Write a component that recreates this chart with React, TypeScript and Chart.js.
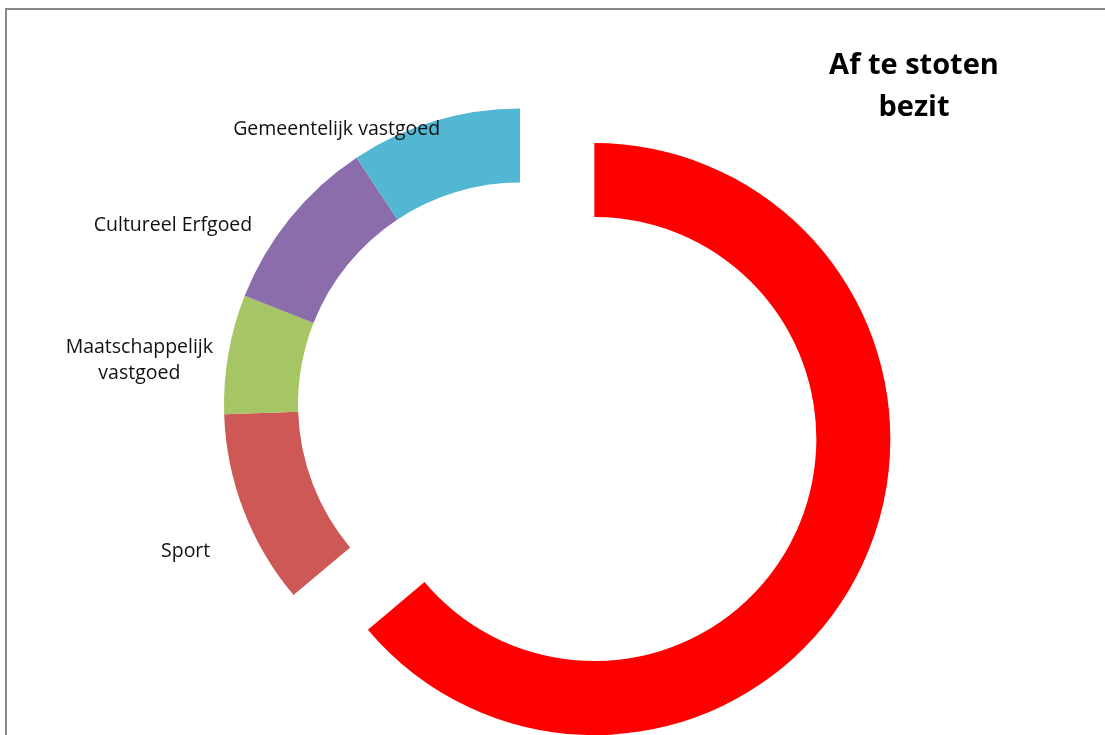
import React, { useEffect, useRef } from 'react';
import { Chart, registerables } from 'chart.js';

Chart.register(...registerables);

// ---- data ----
const categories = ['Af te stoten bezit', 'Sport', 'Maatschappelijk vastgoed', 'Cultureel Erfgoed', 'Gemeentelijk vastgoed'];
const values = [63.8, 10.6, 6.5, 9.7, 9.3];
const labelLines: string[][] = [[], ['Sport'], ['Maatschappelijk', 'vastgoed'], ['Cultureel Erfgoed'], ['Gemeentelijk vastgoed']];
const titleLines = ['Af te stoten', 'bezit'];

// ---- styles ----
const colors = ['#FF0000', '#CD5855', '#A6C564', '#8B6DAC', '#52B7D2'];
const explode = [82, 0, 0, 0, 0];
const labelOffsets = [[0, 0], [-58, 41], [-89, 6], [-117, 7], [-98, 8]];

const explodePlugin = {
  id: 'explodeSlices',
  beforeDatasetDraw(chart: any, args: any) {
    const ctx = chart.ctx;
    const meta = args.meta;
    meta.data.forEach((arc: any, i: number) => {
      const d = explode[i] || 0;
      ctx.save();
      if (d) {
        const mid = (arc.startAngle + arc.endAngle) / 2;
        ctx.translate(Math.cos(mid) * d, Math.sin(mid) * d);
      }
      arc.draw(ctx);
      ctx.restore();
    });
    return false;
  },
};

const labelPlugin = {
  id: 'sliceLabels',
  afterDatasetsDraw(chart: any) {
    const ctx = chart.ctx;
    const meta = chart.getDatasetMeta(0);
    ctx.save();
    ctx.font = '19.5px "Open Sans"';
    ctx.fillStyle = '#111111';
    ctx.textAlign = 'center';
    ctx.textBaseline = 'middle';
    meta.data.forEach((arc: any, i: number) => {
      const lines = labelLines[i];
      if (!lines || !lines.length) return;
      const mid = (arc.startAngle + arc.endAngle) / 2;
      const ax = arc.x + Math.cos(mid) * arc.outerRadius + labelOffsets[i][0];
      const ay = arc.y + Math.sin(mid) * arc.outerRadius + labelOffsets[i][1];
      const lh = 26;
      lines.forEach((t, k) => ctx.fillText(t, ax, ay + (k - (lines.length - 1) / 2) * lh));
    });
    // title
    ctx.font = 'bold 29px "Open Sans"';
    ctx.fillStyle = '#000000';
    ctx.textBaseline = 'alphabetic';
    titleLines.forEach((t, k) => ctx.fillText(t, 914, 74 + k * 42));
    ctx.restore();
  },
};

export default function App() {
  const ref = useRef<HTMLCanvasElement | null>(null);
  useEffect(() => {
    if (!ref.current) return;
    const chart = new Chart(ref.current, {
      type: 'doughnut',
      data: {
        labels: categories,
        datasets: [
          {
            data: values,
            backgroundColor: colors,
            borderWidth: 0,
          },
        ],
      },
      options: {
        animation: false,
        responsive: false,
        events: [],
        radius: 296,
        cutout: '75%',
        layout: { padding: { left: 0, right: 65, top: 74, bottom: 0 } },
        plugins: {
          legend: { display: false },
          title: { display: false },
          tooltip: { enabled: false },
        },
      } as any,
      plugins: [explodePlugin, labelPlugin],
    });
    return () => chart.destroy();
  }, []);

  return (
    <div style={{ position: 'fixed', left: 0, top: 0, width: 1105, height: 735, background: '#fff', overflow: 'hidden' }}>
      <canvas ref={ref} width={1105} height={735} style={{ position: 'absolute', left: 0, top: 0 }} />
      <div
        style={{
          position: 'absolute',
          left: 5,
          top: 8,
          width: 1200,
          height: 800,
          borderTop: '2px solid #888',
          borderLeft: '2px solid #888',
          pointerEvents: 'none',
        }}
      />
    </div>
  );
}
